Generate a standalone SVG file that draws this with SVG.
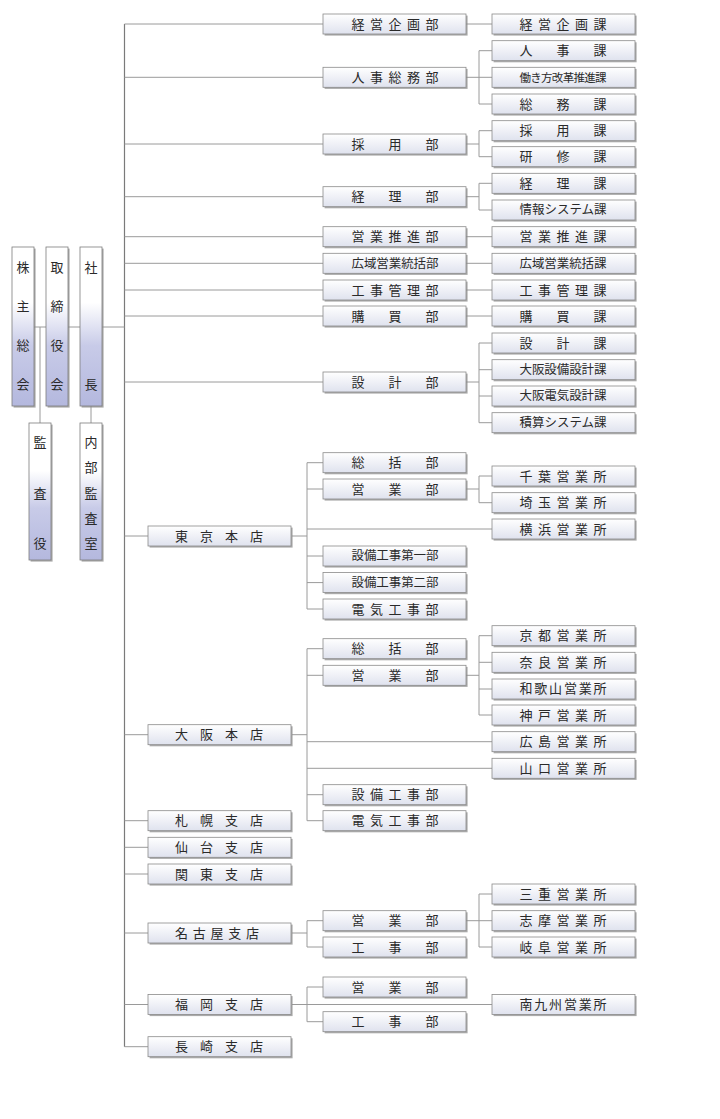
<svg xmlns="http://www.w3.org/2000/svg" xmlns:xlink="http://www.w3.org/1999/xlink" width="720" height="1119" viewBox="0 0 720 1119">
<style>
.t{font-family:"Noto Sans CJK JP","Noto Sans",sans-serif;font-size:13px;fill:#2a2a2a;text-anchor:middle}
.s12{font-size:12.5px}
.s11{font-size:11.5px}
.cn{fill:none;stroke:#9a9a9a;stroke-width:1}
.sp{fill:none;stroke:#7a7a7a;stroke-width:1.2}
.bx{fill:url(#gh);stroke:#8a8a8a;stroke-width:0.8}
.vb{fill:url(#gv);stroke:#7d7d7d;stroke-width:0.8}
.sh{fill:#8e8e8e;opacity:0.75}
</style>
<defs>
<linearGradient id="gh" x1="0" y1="0" x2="0" y2="1">
<stop offset="0" stop-color="#ffffff"/>
<stop offset="1" stop-color="#dfe2ee"/>
</linearGradient>
<linearGradient id="gv" x1="0" y1="0" x2="0" y2="1">
<stop offset="0" stop-color="#ffffff"/>
<stop offset="0.35" stop-color="#ffffff"/>
<stop offset="0.62" stop-color="#c8cbe8"/>
<stop offset="1" stop-color="#b4b8de"/>
</linearGradient>
<g id="hb">
<rect class="sh" x="1.6" y="1.6" width="143" height="20"/>
<rect class="bx" x="0" y="0" width="143" height="20"/>
</g>
<g id="vl">
<rect class="sh" x="1.6" y="1.6" width="22" height="159"/>
<rect class="vb" x="0" y="0" width="22" height="159"/>
</g>
<g id="vs">
<rect class="sh" x="1.6" y="1.6" width="22" height="137"/>
<rect class="vb" x="0" y="0" width="22" height="137"/>
</g>
</defs>
<rect width="720" height="1119" fill="#ffffff"/>

<g id="connectors">
<path class="sp" d="M124.5 24 V1046.7"/>
<path class="cn" d="M34 327 H46 M68 327 H80 M102 327 H124.5 M40 327 V423 M91 406 V423
M124.5 24 H323 M124.5 77.3 H323 M124.5 144 H323 M124.5 196.7 H323 M124.5 236.7 H323 M124.5 263.3 H323 M124.5 290 H323 M124.5 316 H323 M124.5 382 H323
M124.5 536 H148 M124.5 734.7 H148 M124.5 820.7 H148 M124.5 847.3 H148 M124.5 874 H148 M124.5 933 H148 M124.5 1004.5 H148 M124.5 1046.7 H148
M466 24 H492
M466 77.3 H479 M479 50.7 V104 H492 M479 50.7 H492 M479 77.3 H492
M466 144 H479 M479 130.7 V156.7 H492 M479 130.7 H492
M466 196.7 H479 M479 183.3 V210 H492 M479 183.3 H492
M466 236.7 H492 M466 263.3 H492 M466 290 H492 M466 316 H492
M466 382 H479 M479 343 V422.7 H492 M479 343 H492 M479 369.7 H492 M479 396 H492
M292 536 H307 M307 462.7 V609 H323 M307 462.7 H323 M307 489 H323 M307 529 H492 M307 556 H323 M307 582.6 H323
M466 489 H479 M479 476 V502.7 H492 M479 476 H492
M292 734.7 H307 M307 648.7 V820.7 H323 M307 648.7 H323 M307 675.3 H323 M307 741.7 H492 M307 768.3 H492 M307 794.7 H323
M466 675.3 H479 M479 635.7 V715 H492 M479 635.7 H492 M479 662.3 H492 M479 689 H492
M292 933 H307 M307 920.7 V947 H323 M307 920.7 H323
M466 920.7 H479 M479 894 V947 H492 M479 894 H492 M479 920.7 H492
M292 1004.5 H492 M307 987 V1021.7 H323 M307 987 H323"/>
</g>

<g id="n-kabunushi"><use xlink:href="#vl" x="12" y="247"/><text class="t"><tspan x="23" y="271.5">株</tspan><tspan x="23" y="310.5">主</tspan><tspan x="23" y="349.5">総</tspan><tspan x="23" y="388.5">会</tspan></text></g>
<g id="n-torishimariyaku"><use xlink:href="#vl" x="46" y="247"/><text class="t"><tspan x="57" y="271.5">取</tspan><tspan x="57" y="310.5">締</tspan><tspan x="57" y="349.5">役</tspan><tspan x="57" y="388.5">会</tspan></text></g>
<g id="n-shacho"><use xlink:href="#vl" x="80" y="247"/><text class="t"><tspan x="91" y="271.5">社</tspan><tspan x="91" y="388.5">長</tspan></text></g>
<g id="n-kansayaku"><use xlink:href="#vs" x="29" y="423"/><text class="t"><tspan x="40" y="446.5">監</tspan><tspan x="40" y="497.5">査</tspan><tspan x="40" y="547.5">役</tspan></text></g>
<g id="n-naibukansa"><use xlink:href="#vs" x="80" y="423"/><text class="t"><tspan x="91" y="446.5">内</tspan><tspan x="91" y="471.5">部</tspan><tspan x="91" y="497.5">監</tspan><tspan x="91" y="522.5">査</tspan><tspan x="91" y="547.5">室</tspan></text></g>

<!-- level 1 departments -->
<g id="d-keiei"><use xlink:href="#hb" x="323" y="14"/><text class="t" x="395" y="28.5" textLength="87" lengthAdjust="spacing">経営企画部</text></g>
<g id="d-jinji"><use xlink:href="#hb" x="323" y="67.3"/><text class="t" x="395" y="81.8" textLength="87" lengthAdjust="spacing">人事総務部</text></g>
<g id="d-saiyo"><use xlink:href="#hb" x="323" y="134"/><text class="t" x="395" y="148.5" textLength="87" lengthAdjust="spacing">採用部</text></g>
<g id="d-keiri"><use xlink:href="#hb" x="323" y="186.7"/><text class="t" x="395" y="201.2" textLength="87" lengthAdjust="spacing">経理部</text></g>
<g id="d-eigyosuishin"><use xlink:href="#hb" x="323" y="226.7"/><text class="t" x="395" y="241.2" textLength="87" lengthAdjust="spacing">営業推進部</text></g>
<g id="d-koiki"><use xlink:href="#hb" x="323" y="253.3"/><text class="t s12" x="395" y="267.7" textLength="87" lengthAdjust="spacing">広域営業統括部</text></g>
<g id="d-kojikanri"><use xlink:href="#hb" x="323" y="280"/><text class="t" x="395" y="294.5" textLength="87" lengthAdjust="spacing">工事管理部</text></g>
<g id="d-kobai"><use xlink:href="#hb" x="323" y="306"/><text class="t" x="395" y="320.5" textLength="87" lengthAdjust="spacing">購買部</text></g>
<g id="d-sekkei"><use xlink:href="#hb" x="323" y="372"/><text class="t" x="395" y="386.5" textLength="87" lengthAdjust="spacing">設計部</text></g>

<g id="d-tk-sokatsu"><use xlink:href="#hb" x="323" y="452.7"/><text class="t" x="395" y="467.2" textLength="87" lengthAdjust="spacing">総括部</text></g>
<g id="d-tk-eigyo"><use xlink:href="#hb" x="323" y="479"/><text class="t" x="395" y="493.5" textLength="87" lengthAdjust="spacing">営業部</text></g>
<g id="d-tk-setsubi1"><use xlink:href="#hb" x="323" y="546"/><text class="t s12" x="395" y="560.4" textLength="87" lengthAdjust="spacing">設備工事第一部</text></g>
<g id="d-tk-setsubi2"><use xlink:href="#hb" x="323" y="572.6"/><text class="t s12" x="395" y="587" textLength="87" lengthAdjust="spacing">設備工事第二部</text></g>
<g id="d-tk-denki"><use xlink:href="#hb" x="323" y="599"/><text class="t" x="395" y="613.5" textLength="87" lengthAdjust="spacing">電気工事部</text></g>

<g id="d-os-sokatsu"><use xlink:href="#hb" x="323" y="638.7"/><text class="t" x="395" y="653.2" textLength="87" lengthAdjust="spacing">総括部</text></g>
<g id="d-os-eigyo"><use xlink:href="#hb" x="323" y="665.3"/><text class="t" x="395" y="679.8" textLength="87" lengthAdjust="spacing">営業部</text></g>
<g id="d-os-setsubi"><use xlink:href="#hb" x="323" y="784.7"/><text class="t" x="395" y="799.2" textLength="87" lengthAdjust="spacing">設備工事部</text></g>
<g id="d-os-denki"><use xlink:href="#hb" x="323" y="810.7"/><text class="t" x="395" y="825.2" textLength="87" lengthAdjust="spacing">電気工事部</text></g>

<g id="d-ng-eigyo"><use xlink:href="#hb" x="323" y="910.7"/><text class="t" x="395" y="925.2" textLength="87" lengthAdjust="spacing">営業部</text></g>
<g id="d-ng-koji"><use xlink:href="#hb" x="323" y="937"/><text class="t" x="395" y="951.5" textLength="87" lengthAdjust="spacing">工事部</text></g>
<g id="d-fk-eigyo"><use xlink:href="#hb" x="323" y="977"/><text class="t" x="395" y="991.5" textLength="87" lengthAdjust="spacing">営業部</text></g>
<g id="d-fk-koji"><use xlink:href="#hb" x="323" y="1011.7"/><text class="t" x="395" y="1026.2" textLength="87" lengthAdjust="spacing">工事部</text></g>

<!-- level 2 sections -->
<g id="s-keiei"><use xlink:href="#hb" x="492" y="14"/><text class="t" x="563" y="28.5" textLength="87" lengthAdjust="spacing">経営企画課</text></g>
<g id="s-jinji"><use xlink:href="#hb" x="492" y="40.7"/><text class="t" x="563" y="55.2" textLength="87" lengthAdjust="spacing">人事課</text></g>
<g id="s-hatarakikata"><use xlink:href="#hb" x="492" y="67.3"/><text class="t s11" x="563" y="81.5" textLength="87" lengthAdjust="spacing">働き方改革推進課</text></g>
<g id="s-somu"><use xlink:href="#hb" x="492" y="94"/><text class="t" x="563" y="108.5" textLength="87" lengthAdjust="spacing">総務課</text></g>
<g id="s-saiyo"><use xlink:href="#hb" x="492" y="120.7"/><text class="t" x="563" y="135.2" textLength="87" lengthAdjust="spacing">採用課</text></g>
<g id="s-kenshu"><use xlink:href="#hb" x="492" y="146.7"/><text class="t" x="563" y="161.2" textLength="87" lengthAdjust="spacing">研修課</text></g>
<g id="s-keiri"><use xlink:href="#hb" x="492" y="173.3"/><text class="t" x="563" y="187.8" textLength="87" lengthAdjust="spacing">経理課</text></g>
<g id="s-joho"><use xlink:href="#hb" x="492" y="200"/><text class="t s12" x="563" y="214.4" textLength="87" lengthAdjust="spacing">情報システム課</text></g>
<g id="s-eigyosuishin"><use xlink:href="#hb" x="492" y="226.7"/><text class="t" x="563" y="241.2" textLength="87" lengthAdjust="spacing">営業推進課</text></g>
<g id="s-koiki"><use xlink:href="#hb" x="492" y="253.3"/><text class="t s12" x="563" y="267.7" textLength="87" lengthAdjust="spacing">広域営業統括課</text></g>
<g id="s-kojikanri"><use xlink:href="#hb" x="492" y="280"/><text class="t" x="563" y="294.5" textLength="87" lengthAdjust="spacing">工事管理課</text></g>
<g id="s-kobai"><use xlink:href="#hb" x="492" y="306"/><text class="t" x="563" y="320.5" textLength="87" lengthAdjust="spacing">購買課</text></g>
<g id="s-sekkei"><use xlink:href="#hb" x="492" y="333"/><text class="t" x="563" y="347.5" textLength="87" lengthAdjust="spacing">設計課</text></g>
<g id="s-osakasetsubi"><use xlink:href="#hb" x="492" y="359.7"/><text class="t s12" x="563" y="374.1" textLength="87" lengthAdjust="spacing">大阪設備設計課</text></g>
<g id="s-osakadenki"><use xlink:href="#hb" x="492" y="386"/><text class="t s12" x="563" y="400.4" textLength="87" lengthAdjust="spacing">大阪電気設計課</text></g>
<g id="s-sekisan"><use xlink:href="#hb" x="492" y="412.7"/><text class="t s12" x="563" y="427.1" textLength="87" lengthAdjust="spacing">積算システム課</text></g>

<g id="s-chiba"><use xlink:href="#hb" x="492" y="466"/><text class="t" x="563" y="480.5" textLength="87" lengthAdjust="spacing">千葉営業所</text></g>
<g id="s-saitama"><use xlink:href="#hb" x="492" y="492.7"/><text class="t" x="563" y="507.2" textLength="87" lengthAdjust="spacing">埼玉営業所</text></g>
<g id="s-yokohama"><use xlink:href="#hb" x="492" y="519"/><text class="t" x="563" y="533.5" textLength="87" lengthAdjust="spacing">横浜営業所</text></g>
<g id="s-kyoto"><use xlink:href="#hb" x="492" y="625.7"/><text class="t" x="563" y="640.2" textLength="87" lengthAdjust="spacing">京都営業所</text></g>
<g id="s-nara"><use xlink:href="#hb" x="492" y="652.3"/><text class="t" x="563" y="666.8" textLength="87" lengthAdjust="spacing">奈良営業所</text></g>
<g id="s-wakayama"><use xlink:href="#hb" x="492" y="679"/><text class="t" x="563" y="693.3" textLength="87" lengthAdjust="spacing">和歌山営業所</text></g>
<g id="s-kobe"><use xlink:href="#hb" x="492" y="705"/><text class="t" x="563" y="719.5" textLength="87" lengthAdjust="spacing">神戸営業所</text></g>
<g id="s-hiroshima"><use xlink:href="#hb" x="492" y="731.7"/><text class="t" x="563" y="746.2" textLength="87" lengthAdjust="spacing">広島営業所</text></g>
<g id="s-yamaguchi"><use xlink:href="#hb" x="492" y="758.3"/><text class="t" x="563" y="772.8" textLength="87" lengthAdjust="spacing">山口営業所</text></g>
<g id="s-mie"><use xlink:href="#hb" x="492" y="884"/><text class="t" x="563" y="898.5" textLength="87" lengthAdjust="spacing">三重営業所</text></g>
<g id="s-shima"><use xlink:href="#hb" x="492" y="910.7"/><text class="t" x="563" y="925.2" textLength="87" lengthAdjust="spacing">志摩営業所</text></g>
<g id="s-gifu"><use xlink:href="#hb" x="492" y="937"/><text class="t" x="563" y="951.5" textLength="87" lengthAdjust="spacing">岐阜営業所</text></g>
<g id="s-minamikyushu"><use xlink:href="#hb" x="492" y="994.5"/><text class="t" x="563" y="1009" textLength="87" lengthAdjust="spacing">南九州営業所</text></g>

<!-- branches -->
<g id="b-tokyo"><use xlink:href="#hb" x="148" y="526"/><text class="t" x="219" y="540.5" textLength="88" lengthAdjust="spacing">東京本店</text></g>
<g id="b-osaka"><use xlink:href="#hb" x="148" y="724.7"/><text class="t" x="219" y="739.2" textLength="88" lengthAdjust="spacing">大阪本店</text></g>
<g id="b-sapporo"><use xlink:href="#hb" x="148" y="810.7"/><text class="t" x="219" y="825.2" textLength="88" lengthAdjust="spacing">札幌支店</text></g>
<g id="b-sendai"><use xlink:href="#hb" x="148" y="837.3"/><text class="t" x="219" y="851.8" textLength="88" lengthAdjust="spacing">仙台支店</text></g>
<g id="b-kanto"><use xlink:href="#hb" x="148" y="864"/><text class="t" x="219" y="878.5" textLength="88" lengthAdjust="spacing">関東支店</text></g>
<g id="b-nagoya"><use xlink:href="#hb" x="148" y="923"/><text class="t" x="217" y="937.5" textLength="84" lengthAdjust="spacing">名古屋支店</text></g>
<g id="b-fukuoka"><use xlink:href="#hb" x="148" y="994.5"/><text class="t" x="219" y="1009" textLength="88" lengthAdjust="spacing">福岡支店</text></g>
<g id="b-nagasaki"><use xlink:href="#hb" x="148" y="1036.7"/><text class="t" x="219" y="1051.2" textLength="88" lengthAdjust="spacing">長崎支店</text></g>
</svg>
